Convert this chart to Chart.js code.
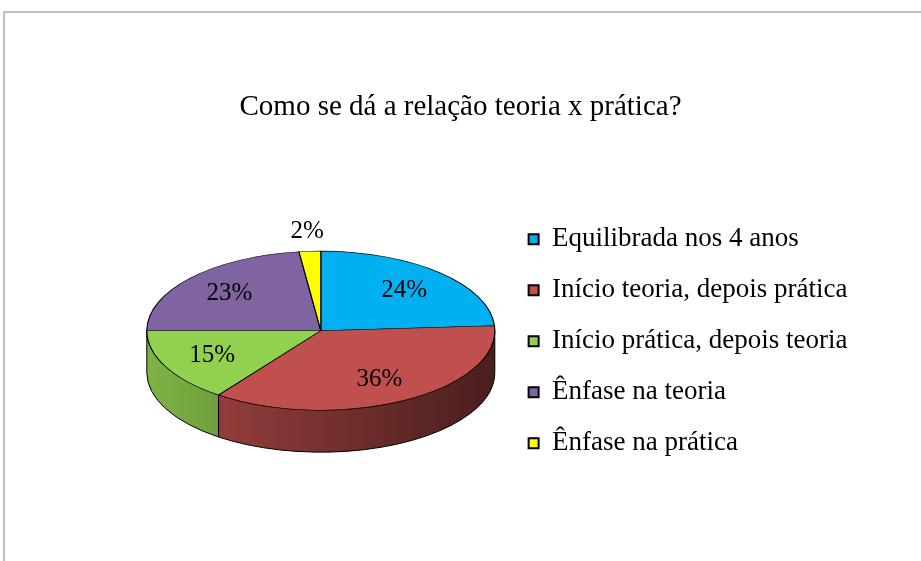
<!DOCTYPE html>
<html>
<head>
<meta charset="utf-8">
<script src="https://cdn.jsdelivr.net/npm/chart.js@4/dist/chart.umd.min.js"></script>
<style>
  body { margin: 0; background: #fff; }
  #frame { position: absolute; left: 3px; top: 11px; width: 918px; height: 550px;
           border-top: 2px solid #c0c0c0; border-left: 2px solid #c0c0c0; }
  #chart { position: absolute; left: 0; top: 0; }
</style>
</head>
<body>
<div id="frame"></div>
<canvas id="chart" width="921" height="561"></canvas>
<script>
const titleText = "Como se dá a relação teoria x prática?";
const labels = ["Equilibrada nos 4 anos", "Início teoria, depois prática", "Início prática, depois teoria", "Ênfase na teoria", "Ênfase na prática"];
const values = [24, 36, 15, 23, 2];
const colors = ["#00B0F0", "#C0504D", "#92D050", "#8064A2", "#FFFF00"];

const depth = 42;     // hauteur du cylindre
const tilt = 0.457;   // aplatissement de l'ellipse

Chart.defaults.font.family = "'Liberation Serif', 'Times New Roman', serif";
Chart.defaults.color = "#000";

function shade(hex, f) {
  const n = parseInt(hex.slice(1), 16);
  const r = Math.round(((n >> 16) & 255) * f);
  const g = Math.round(((n >> 8) & 255) * f);
  const b = Math.round((n & 255) * f);
  return "rgb(" + r + "," + g + "," + b + ")";
}

// boites vides pour placer le camembert et la légende
const spacer = (position, size, weight) => ({
  position: position, weight: weight, fullSize: false, options: { display: false },
  update(maxWidth, maxHeight) { this.width = size; this.height = maxHeight; },
  isHorizontal() { return false; },
  draw() {}
});

const spacers = {
  id: "spacers",
  beforeInit(chart) {
    Chart.layouts.addBox(chart, spacer("left", 137, 0));
    Chart.layouts.addBox(chart, spacer("right", 63.5, 3000));
  }
};

function pieGeom(chart) {
  const arc = chart.getDatasetMeta(0).data[0];
  const r = arc.outerRadius;
  return { x: arc.x, y: arc.y - depth / 2, rx: r, ry: r * tilt, ox: arc.x, oy: arc.y };
}

const pie3d = {
  id: "pie3d",
  beforeDatasetsDraw(chart) {
    const ctx = chart.ctx;
    const g = pieGeom(chart);
    // côtés visibles (moitié avant)
    chart.getDatasetMeta(0).data.forEach((arc, i) => {
      const a1 = Math.max(arc.startAngle, 0);
      const a2 = Math.min(arc.endAngle, Math.PI);
      if (a2 <= a1) return;
      const grad = ctx.createLinearGradient(g.x - g.rx, 0, g.x + g.rx, 0);
      grad.addColorStop(0, shade(colors[i], 0.86));
      grad.addColorStop(1, shade(colors[i], 0.38));
      ctx.beginPath();
      ctx.ellipse(g.x, g.y, g.rx, g.ry, 0, a1, a2);
      ctx.ellipse(g.x, g.y + depth, g.rx, g.ry, 0, a2, a1, true);
      ctx.closePath();
      ctx.fillStyle = grad;
      ctx.fill();
      ctx.strokeStyle = "#000";
      ctx.lineWidth = 1;
      ctx.stroke();
    });
    // dessus : on écrase le disque en ellipse
    ctx.save();
    ctx.translate(g.x, g.y);
    ctx.scale(1, tilt);
    ctx.translate(-g.ox, -g.oy);
  },
  afterDatasetsDraw(chart) {
    const ctx = chart.ctx;
    ctx.restore();
    const g = pieGeom(chart);
    const total = values.reduce((a, b) => a + b, 0);
    ctx.save();
    ctx.font = "25px 'Liberation Serif', 'Times New Roman', serif";
    ctx.fillStyle = "#000";
    ctx.textAlign = "center";
    ctx.textBaseline = "middle";
    chart.getDatasetMeta(0).data.forEach((arc, i) => {
      const pct = Math.round(values[i] / total * 100);
      const mid = (arc.startAngle + arc.endAngle) / 2;
      const f = pct < 5 ? 1.25 : 0.7;
      ctx.fillText(pct + "%", g.x + Math.cos(mid) * g.rx * f, g.y + Math.sin(mid) * g.ry * f);
    });
    ctx.restore();
  }
};

new Chart(document.getElementById("chart"), {
  type: "pie",
  data: {
    labels: labels,
    datasets: [{
      data: values,
      backgroundColor: colors,
      borderColor: "#000",
      borderWidth: 1.2,
      radius: 174,
      clip: false
    }]
  },
  options: {
    responsive: false,
    devicePixelRatio: 1,
    animation: false,
    events: [],
    layout: { padding: { top: 0, bottom: 59.5, left: 0, right: 0 } },
    plugins: {
      title: {
        display: true,
        text: titleText,
        font: { size: 29, weight: "normal" },
        color: "#000",
        padding: { top: 90, bottom: 77 }
      },
      legend: {
        position: "right",
        align: "start",
        fullSize: false,
        labels: {
          font: { size: 27 },
          color: "#000",
          boxWidth: 10,
          boxHeight: 10,
          padding: 24,
          generateLabels(chart) {
            return Chart.overrides.pie.plugins.legend.labels.generateLabels(chart)
              .map(l => Object.assign(l, { lineWidth: 2, strokeStyle: "#000" }));
          }
        }
      },
      tooltip: { enabled: false }
    }
  },
  plugins: [spacers, pie3d]
});
</script>
</body>
</html>
